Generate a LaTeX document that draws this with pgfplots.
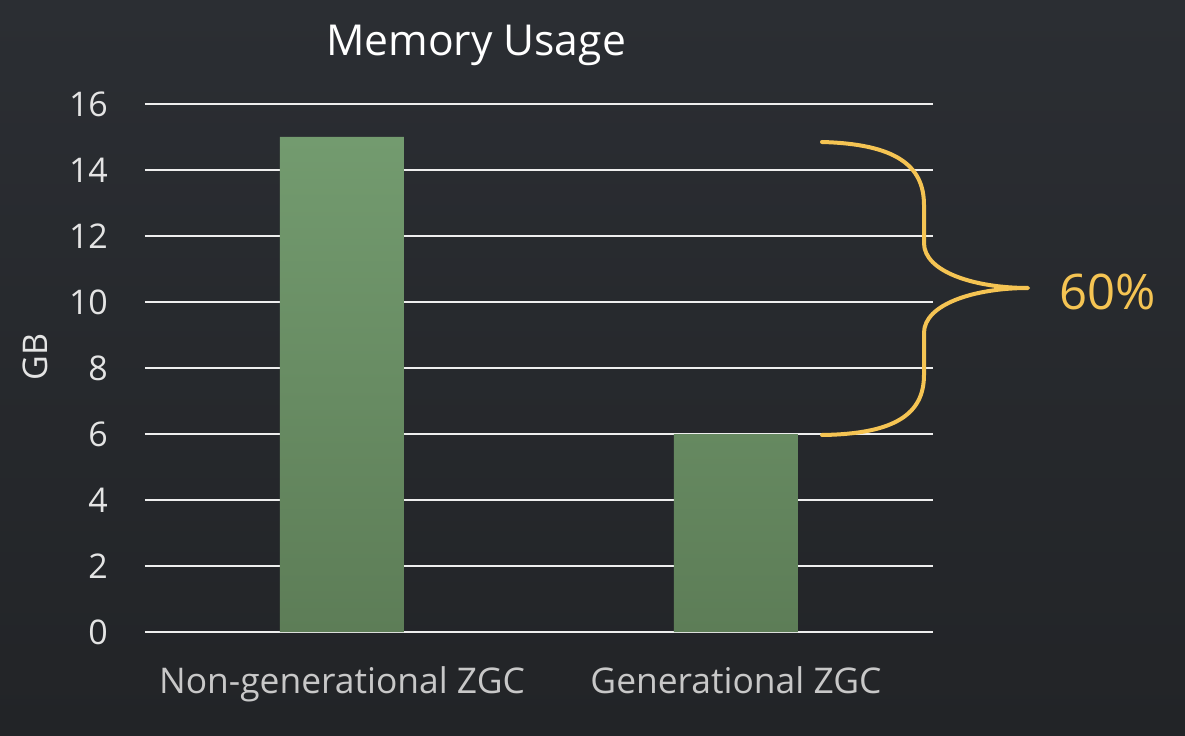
\documentclass[border=0pt]{standalone}
\usepackage{pgfplots}
\pgfplotsset{compat=1.18}
\usepackage{fontspec}
\setmainfont{Open Sans}
\definecolor{bgtop}{HTML}{2B2E33}
\definecolor{bgbot}{HTML}{222427}
\definecolor{bartop}{HTML}{739B6F}
\definecolor{barbot}{HTML}{5D7D57}
\definecolor{gridc}{HTML}{EEEEEE}
\definecolor{tickc}{HTML}{E4E4E4}
\definecolor{xlabc}{HTML}{C8C8C8}
\definecolor{gold}{HTML}{F5C453}
\begin{document}
\begin{tikzpicture}
\shade[top color=bgtop, bottom color=bgbot] (0,0) rectangle (592.5pt,367.5pt);
\begin{axis}[
  at={(72.5pt,51.5pt)}, anchor=south west,
  scale only axis, width=394pt, height=264pt,
  xmin=-0.5, xmax=1.5, ymin=0, ymax=16,
  axis line style={draw=none},
  xtick={0,1}, xticklabels={Non-generational ZGC, Generational ZGC},
  ytick={0,2,...,16},
  major tick length=0pt,
  ymajorgrids, grid style={gridc, line width=1pt},
  xticklabel style={font=\fontsize{17.7}{21}\selectfont, text=xlabc, yshift=-14pt},
  yticklabel style={font=\fontsize{17}{20}\selectfont, text=tickc, xshift=-15pt},
  /pgf/number format/assume math mode=true,
  clip=false,
  axis on top=false,
]
\addplot[ybar, bar width=62pt, draw=none, top color=bartop, bottom color=barbot]
  coordinates {(0,15) (1,6)};
\end{axis}
\begin{scope}[x=0.5pt, y=-0.5pt, shift={(0,367.5pt)}]
  \node[text=white, font=\fontsize{21.3}{25}\selectfont] at (476,45) {Memory Usage};
  \node[text=tickc, font=\fontsize{17}{20}\selectfont, rotate=90] at (35,357) {GB};
  \draw[gold, line width=2pt, line cap=round, line join=round]
    (822,142) .. controls (895,144) and (924,165) .. (924,205) -- (924,243)
    .. controls (924,272) and (975,288) .. (1028,288)
    .. controls (975,288) and (924,304) .. (924,333) -- (924,375)
    .. controls (924,414) and (895,434) .. (822,435);
  \node[text=gold, font=\fontsize{24.5}{28}\selectfont] at (1108,292) {60\%};
\end{scope}
\end{tikzpicture}
\end{document}
